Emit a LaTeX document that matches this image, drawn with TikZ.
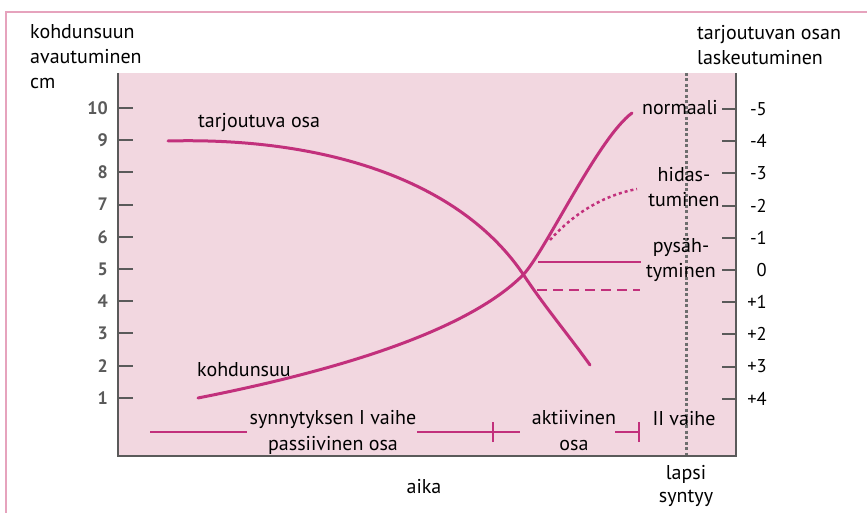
\documentclass[tikz,border=0pt]{standalone}
\usepackage{fontspec}
\setmainfont{PT Sans}
\definecolor{bgpink}{HTML}{F2D7E0}
\definecolor{frame}{HTML}{E6A3BD}
\definecolor{curve}{HTML}{C2307C}
\definecolor{axisgray}{HTML}{5A5A5A}
\definecolor{dotgray}{HTML}{6E6E6E}
\begin{document}
\begin{tikzpicture}[x=1pt,y=-1pt,
  lbl/.style={inner sep=0pt,font=\fontsize{20}{25}\selectfont},
  lnum/.style={inner sep=0pt,anchor=east,text=axisgray,font=\fontsize{18}{20}\selectfont\bfseries},
  rnum/.style={inner sep=0pt,anchor=east,font=\fontsize{18.5}{20}\selectfont},
  axis/.style={draw=axisgray,line width=2pt},
  tck/.style={draw=axisgray,line width=2pt},
  crv/.style={draw=curve,line width=3pt,line cap=round},
  phase/.style={draw=curve,line width=2.5pt}]
\useasboundingbox (0,0) rectangle (867,513);
% frame
\draw[frame,line width=2pt] (6,513) -- (6,12) -- (867,12);
% plot area
\fill[bgpink] (118,73) rectangle (736,456);
% dotted vertical line
\draw[dotgray,line width=3pt,dash pattern=on 3pt off 2.5pt] (686,73) -- (686,456);
% axes
\draw[axis] (118,73) -- (118,456) -- (736,456) -- (736,73);
% left ticks and labels
\foreach \v [count=\i from 0] in {10,9,8,7,6,5,4,3,2,1}{
  \pgfmathsetmacro{\yy}{108+32.2*\i}
  \draw[tck] (118,\yy) -- (133,\yy);
  \node[lnum] (l\v) at (108,\yy) {\v};
}
% right ticks and labels
\foreach \v [count=\i from 0] in {-5,-4,-3,-2,-1,0,+1,+2,+3,+4}{
  \pgfmathsetmacro{\yy}{109+32.2*\i}
  \draw[tck] (722,\yy) -- (736,\yy);
  \node[rnum] (r\i) at (767,\yy) {\v};
}
% axis titles (anchor = baseline of last line)
\node[lbl,anchor=base west,align=left] (ytitle) at (30,89) {kohdunsuun\\avautuminen\\cm};
\node[lbl,anchor=base west,align=left] (rtitle) at (697,65) {tarjoutuvan osan\\laskeutuminen};
% curves
\draw[crv] (168,141) .. controls (320,137) and (460,178) .. (525,277) .. controls (545,307) and (570,337) .. (590,365);
\draw[crv] (198,398) .. controls (330,372) and (465,333) .. (523,275) .. controls (545,252) and (598,138) .. (632,113);
\draw[draw=curve,line width=2.5pt,dash pattern=on 3pt off 3pt] (550,240) .. controls (575,212) and (605,195) .. (637,189);
\draw[draw=curve,line width=2pt] (538,262) -- (641,262);
\draw[draw=curve,line width=2pt,dash pattern=on 10pt off 6pt] (537,290) -- (640,290);
% curve labels
\node[lbl,anchor=base west] (tarj) at (198,128) {tarjoutuva osa};
\node[lbl,anchor=base west] (kohd) at (197,376) {kohdunsuu};
\node[lbl,anchor=base east] (norm) at (718,115) {normaali};
\node[lbl,anchor=base,align=center] (hid) at (684,207) {hidas-\\tuminen};
\node[lbl,anchor=base,align=center] (pys) at (681,277) {pysäh-\\tyminen};
% phases
\node[lbl,anchor=base,align=center,font=\fontsize{20}{26}\selectfont] (ph1) at (333,450) {synnytyksen I vaihe\\passiivinen osa};
\node[lbl,anchor=base,align=center,font=\fontsize{20}{26}\selectfont] (ph2) at (574,450) {aktiivinen\\osa};
\node[lbl,anchor=base] (ph3) at (684,425) {II vaihe};
\coordinate (a1) at (150,432);
\coordinate (a2) at (247,432);
\coordinate (b1) at (417,432);
\coordinate (b2) at (520,432);
\coordinate (bt) at (493,432);
\coordinate (c1) at (615,432);
\coordinate (c2) at (639,432);
\draw[phase] (a1) -- (a2);
\draw[phase] (b1) -- (b2);
\draw[phase] ([yshift=-10pt]bt) -- ([yshift=10pt]bt);
\draw[phase] (c1) -- (c2);
\draw[phase] ([yshift=-10pt]c2) -- ([yshift=10pt]c2);
% bottom labels
\node[lbl,anchor=base] (aika) at (424,493) {aika};
\node[lbl,anchor=base,align=center,font=\fontsize{20}{23}\selectfont] (lapsi) at (686,502) {lapsi\\syntyy};
\end{tikzpicture}
\end{document}
